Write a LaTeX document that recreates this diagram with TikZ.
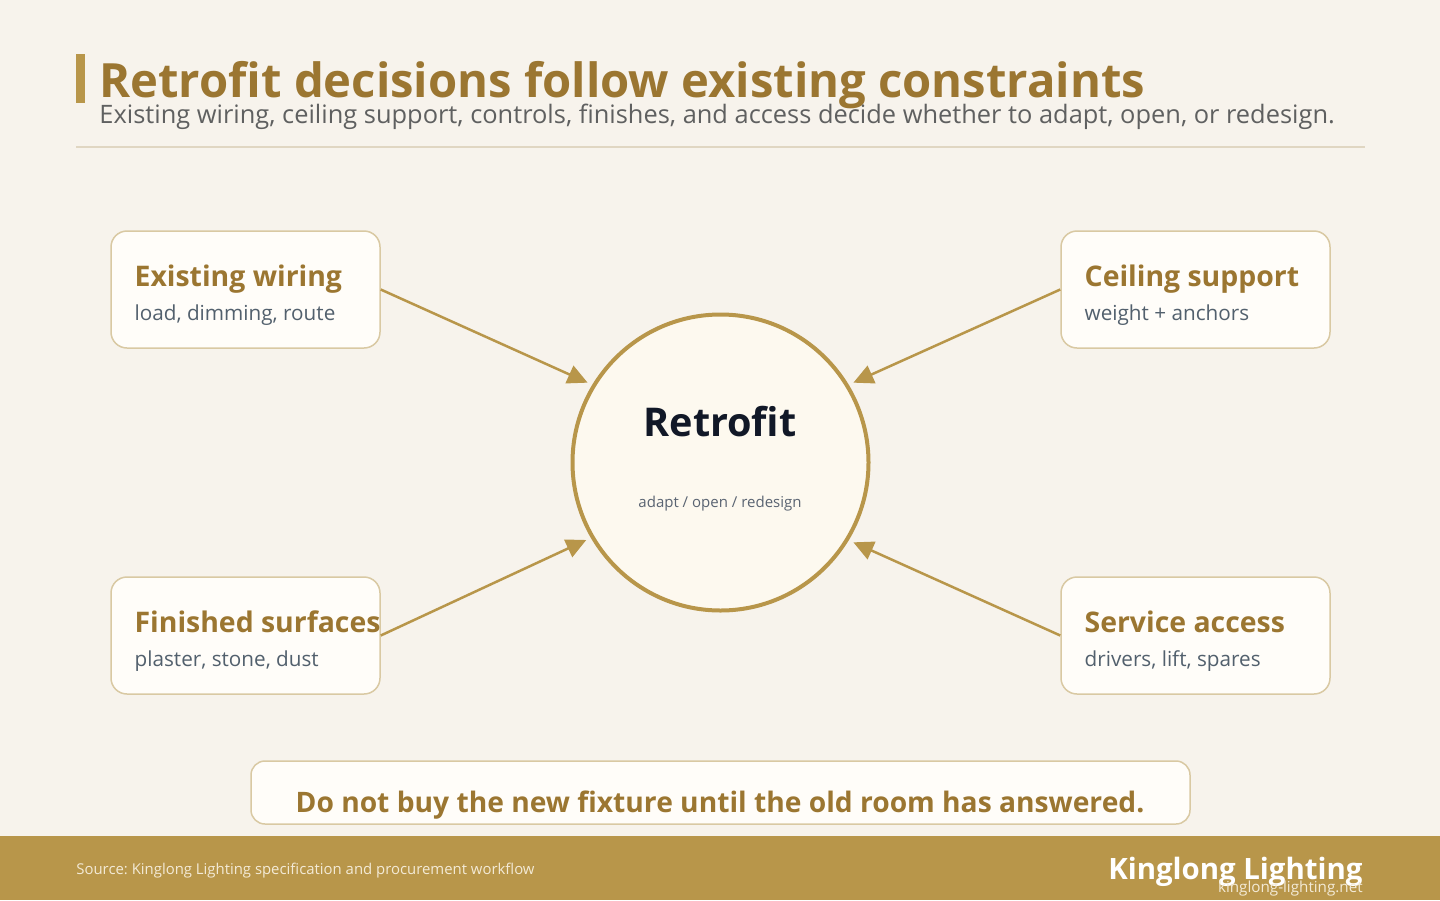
\documentclass[tikz,border=0pt]{standalone}
\usepackage{fontspec}
\setmainfont{Open Sans}
\usepackage{tikz}
\usetikzlibrary{arrows.meta,calc,positioning}
\definecolor{paper}{HTML}{F7F3EC}
\definecolor{brass}{HTML}{B8964A}
\definecolor{ochre}{HTML}{9B7631}
\definecolor{slate}{HTML}{5F6060}
\definecolor{rulecol}{HTML}{E0D6C2}
\definecolor{cardfill}{HTML}{FFFDF9}
\definecolor{cardline}{HTML}{D9C9A3}
\definecolor{cardtext}{HTML}{52606D}
\definecolor{hubfill}{HTML}{FDF9EF}
\definecolor{ink}{HTML}{111827}
\definecolor{hubtext}{HTML}{5A6472}
\definecolor{foottext}{HTML}{F3EAD6}
\frenchspacing

\begin{document}
\begin{tikzpicture}[x=0.5pt,y=-0.5pt,
    title/.style={anchor=base west,inner sep=0pt,text=ochre,font=\fontsize{23.6}{28}\selectfont\bfseries},
    lede/.style={anchor=base west,inner sep=0pt,text=slate,font=\fontsize{12.7}{14}\selectfont},
    card/.style={draw=cardline,fill=cardfill,line width=0.75pt,rounded corners=8pt,
      minimum width=134.5pt,minimum height=58.5pt,inner sep=0pt},
    head/.style={anchor=base west,inner sep=0pt,text=ochre,font=\fontsize{14.2}{16}\selectfont\bfseries},
    sub/.style={anchor=base west,inner sep=0pt,text=cardtext,font=\fontsize{10.35}{12}\selectfont},
    link/.style={draw=brass,line width=1.25pt,-{Triangle[length=10pt,width=9.5pt]}}]
  % background
  \fill[paper] (0,0) rectangle (1440,900);
  \useasboundingbox (0,0) rectangle (1440,900);
  % header
  \fill[brass] (76,54) rectangle (85,103);
  \node[title] (heading) at (99,97.5) {Retrofit decisions follow existing constraints};
  \node[lede] (lede) at (99,123.5) {Existing wiring, ceiling support, controls, finishes, and access decide whether to adapt, open, or redesign.};
  \draw[rulecol,line width=1pt] (76,147) -- (1365,147);
  % centre
  \node[circle,draw=brass,fill=hubfill,line width=2pt,minimum size=148pt,outer sep=3.5pt] (hub) at (720.5,462.5) {};
  \node[anchor=base,inner sep=0pt,text=ink,font=\fontsize{19.8}{24}\selectfont\bfseries] (hubhead) at (720,436) {Retrofit};
  \node[anchor=base,inner sep=0pt,text=hubtext,font=\fontsize{7.5}{9}\selectfont] (hubsub) at (720,507) {adapt / open / redesign};
  % constraint cards
  \node[card] (wiring) at (245.5,289.5) {};
  \node[head] (wiringhead) at ($(wiring.west)+(24,-3.5)$) {Existing wiring};
  \node[sub] (wiringsub) at ($(wiring.west)+(24,30.5)$) {load, dimming, route};
  \node[card] (ceiling) at (1195.5,289.5) {};
  \node[head] (ceilinghead) at ($(ceiling.west)+(24,-3.5)$) {Ceiling support};
  \node[sub] (ceilingsub) at ($(ceiling.west)+(24,30.5)$) {weight + anchors};
  \node[card] (finish) at (245.5,635.5) {};
  \node[head] (finishhead) at ($(finish.west)+(24,-3.5)$) {Finished surfaces};
  \node[sub] (finishsub) at ($(finish.west)+(24,30.5)$) {plaster, stone, dust};
  \node[card] (access) at (1195.5,635.5) {};
  \node[head] (accesshead) at ($(access.west)+(24,-3.5)$) {Service access};
  \node[sub] (accesssub) at ($(access.west)+(24,30.5)$) {drivers, lift, spares};
  % connectors
  \draw[link] (wiring.east) -- (hub.149.3);
  \draw[link] (ceiling.west) -- (hub.31);
  \draw[link] (finish.east) -- (hub.210.7);
  \draw[link] (access.west) -- (hub.329);
  % advice banner
  \node[card,rounded corners=7pt,minimum width=469.5pt,minimum height=31.5pt] (advice) at (720.5,792.5) {};
  \node[anchor=base,inner sep=0pt,text=ochre,font=\fontsize{14.1}{16}\selectfont\bfseries] (advicetext) at (720,812.5) {Do not buy the new fixture until the old room has answered.};
  % footer
  \fill[brass] (0,836) rectangle (1440,900);
  \node[anchor=base west,inner sep=0pt,text=foottext,font=\fontsize{7.45}{9}\selectfont] (source) at (76,874) {Source: Kinglong Lighting specification and procurement workflow};
  \node[anchor=base east,inner sep=0pt,text=white,font=\fontsize{14.7}{16}\selectfont\bfseries] (brand) at (1363,879) {Kinglong Lighting};
  \node[anchor=base east,inner sep=0pt,text=foottext,font=\fontsize{7.6}{9}\selectfont] (url) at (1363,892) {kinglong-lighting.net};
\end{tikzpicture}
\end{document}
